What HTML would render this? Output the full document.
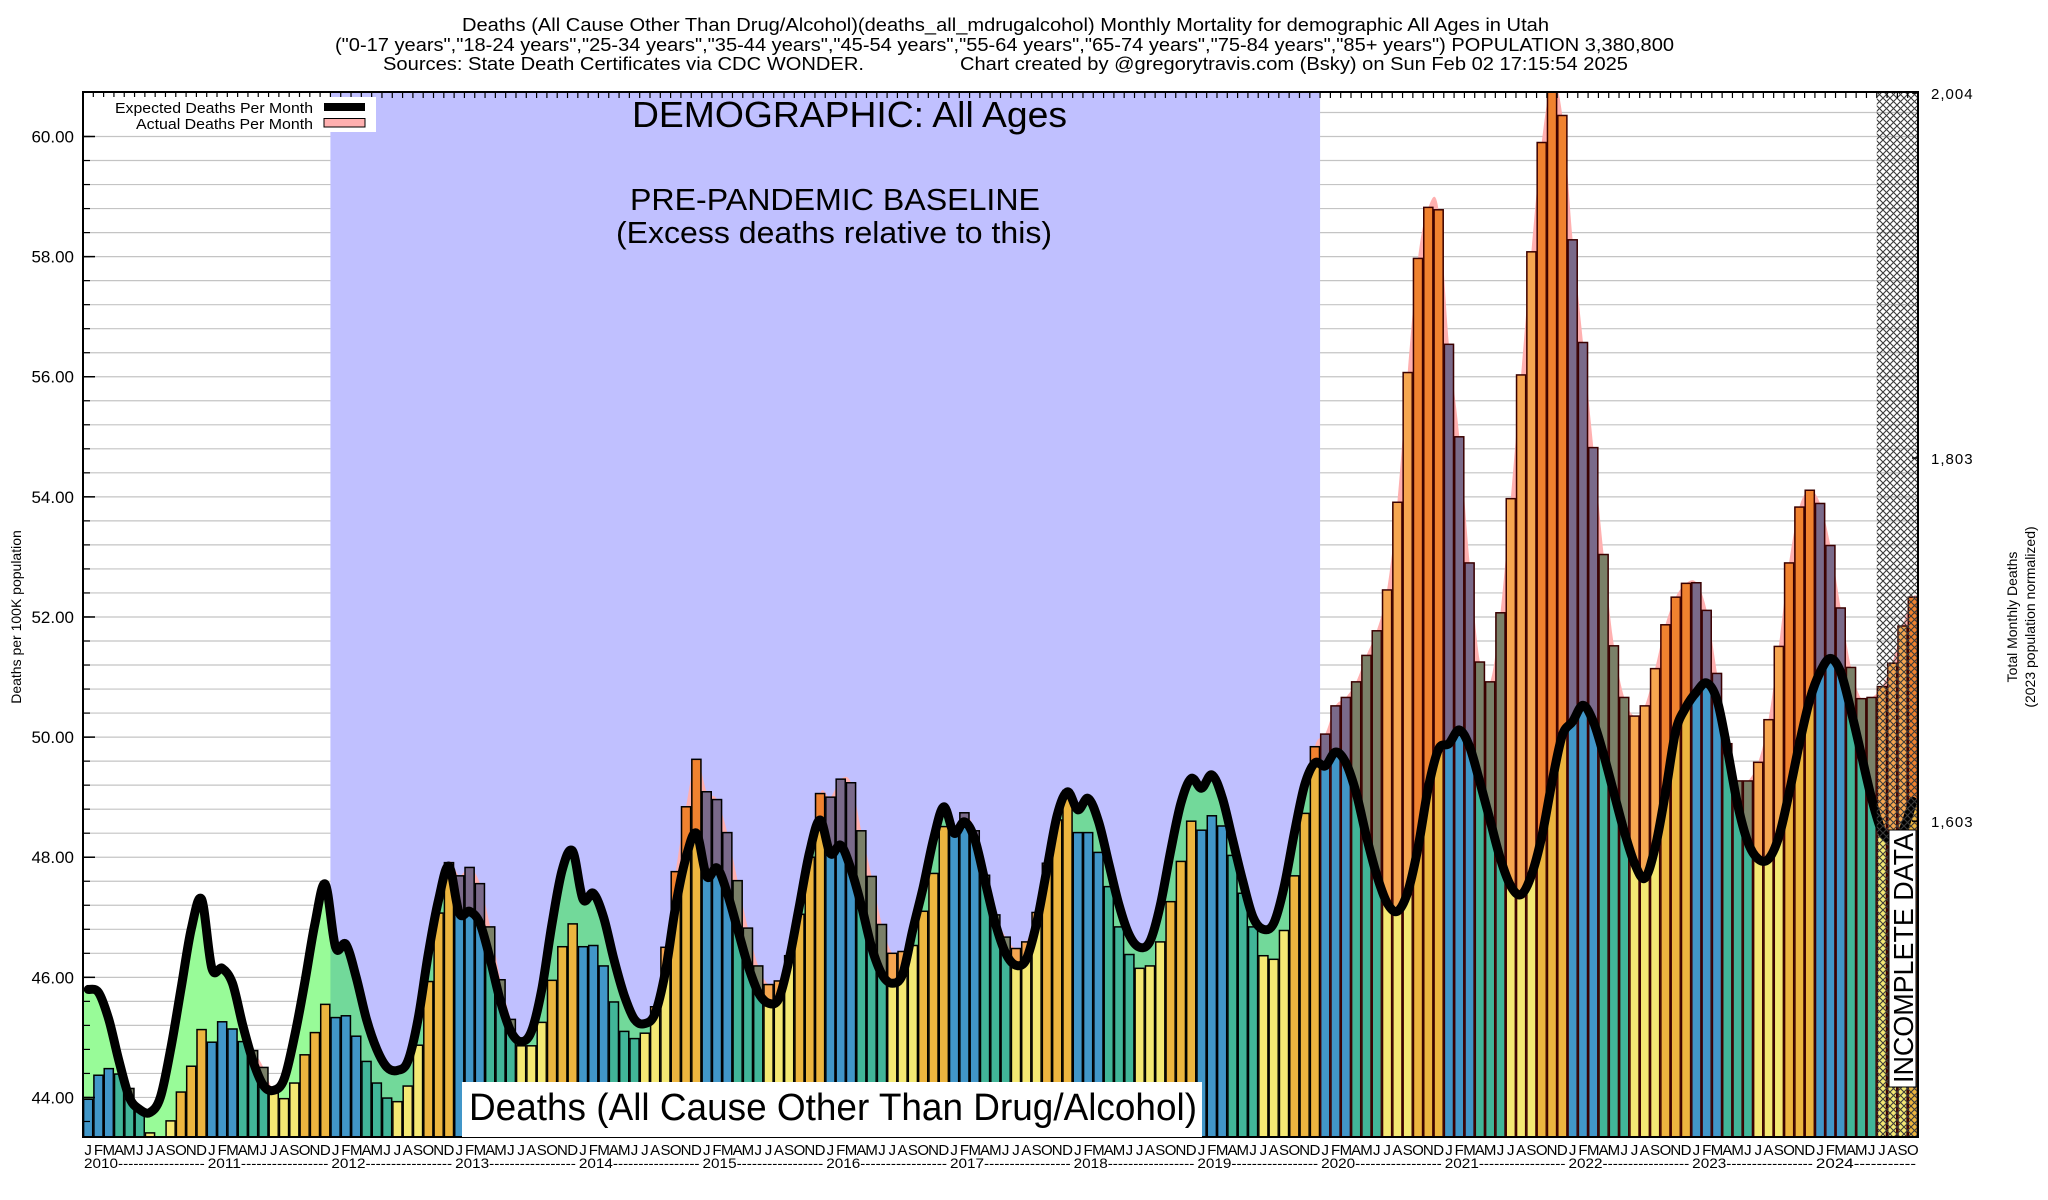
<!DOCTYPE html>
<html><head><meta charset="utf-8"><title>Utah Monthly Mortality</title>
<style>body{margin:0;background:#fff}svg{display:block;font-family:"Liberation Sans",Arial,sans-serif}</style>
</head><body>
<svg id="chart" xmlns="http://www.w3.org/2000/svg" width="2048" height="1200" viewBox="0 0 2048 1200">
<defs>
<clipPath id="plotClip"><rect x="83" y="92" width="1835" height="1045"/></clipPath>
<pattern id="hatch" width="7" height="7" patternUnits="userSpaceOnUse"><path d="M0,0 L7,7 M7,0 L0,7" stroke="#3a3a3a" stroke-width="1.1"/></pattern>
</defs>
<g font-size="18" fill="#000">
<text x="462" y="31" textLength="1087" lengthAdjust="spacingAndGlyphs">Deaths (All Cause Other Than Drug/Alcohol)(deaths_all_mdrugalcohol) Monthly Mortality for demographic All Ages in Utah</text>
<text x="335" y="51" textLength="1339" lengthAdjust="spacingAndGlyphs">("0-17 years","18-24 years","25-34 years","35-44 years","45-54 years","55-64 years","65-74 years","75-84 years","85+ years") POPULATION 3,380,800</text>
<text x="383" y="70" textLength="481" lengthAdjust="spacingAndGlyphs">Sources: State Death Certificates via CDC WONDER.</text>
<text x="960" y="70" textLength="668" lengthAdjust="spacingAndGlyphs">Chart created by @gregorytravis.com (Bsky) on Sun Feb 02 17:15:54 2025</text>
</g>
<g id="plot"></g>
<g id="overlay"></g>
</svg>
<script>
const monthLetters = ['J','F','M','A','M','J','J','A','S','O','N','D'];
const years = [2010,2011,2012,2013,2014,2015,2016,2017,2018,2019,2020,2021,2022,2023,2024];
const actualDeaths = [
43.97,44.37,44.48,44.39,44.15,43.8,43.41,43.33,43.61,44.09,44.52,45.13,
44.92,45.26,45.14,44.93,44.78,44.5,44.09,43.98,44.24,44.71,45.08,45.55,
45.33,45.36,45.02,44.6,44.24,43.99,43.93,44.19,44.87,45.93,47.07,47.91,
47.69,47.83,47.56,46.84,45.96,45.30,44.86,44.86,45.25,45.95,46.51,46.89,
46.51,46.53,46.19,45.59,45.10,44.98,45.07,45.51,46.50,47.76,48.84,49.63,
49.09,48.96,48.41,47.61,46.82,46.19,45.88,45.94,46.36,47.05,48.0,49.06,
49.0,49.30,49.24,48.44,47.68,46.88,46.40,46.43,46.53,47.10,47.73,48.51,
48.40,48.74,48.44,47.70,47.04,46.67,46.48,46.59,47.08,47.90,48.62,49.11,
48.41,48.41,48.08,47.51,46.84,46.38,46.15,46.19,46.59,47.26,47.93,48.60,
48.45,48.69,48.52,48.03,47.40,46.84,46.36,46.30,46.78,47.69,48.73,49.84,
50.05,50.52,50.66,50.92,51.36,51.77,52.45,53.91,56.07,57.97,58.82,58.78,
56.54,55.0,52.90,51.25,50.92,52.07,53.97,56.03,58.08,59.90,60.9,60.35,
58.28,56.57,54.82,53.04,51.52,50.66,50.35,50.52,51.14,51.87,52.33,52.56,
52.57,52.11,51.06,49.89,49.27,49.27,49.58,50.29,51.51,52.90,53.83,54.11,
53.89,53.19,52.15,51.16,50.64,50.66,50.84,51.23,51.85,52.33];
const expectedDeaths = [
45.8,45.75,45.3,44.6,44.0,43.8,43.75,44.0,44.8,45.8,46.8,47.3,
46.15,46.15,45.9,45.2,44.6,44.2,44.12,44.3,45.0,45.9,46.9,47.55,
46.5,46.55,46.0,45.3,44.8,44.5,44.45,44.6,45.3,46.4,47.3,47.85,
47.07,47.1,46.9,46.3,45.6,45.1,44.93,45.1,45.8,46.9,47.8,48.1,
47.3,47.4,47.0,46.3,45.7,45.3,45.23,45.4,46.1,47.2,48.0,48.4,
47.68,47.82,47.4,46.8,46.2,45.75,45.57,45.65,46.3,47.2,48.1,48.62,
48.06,48.2,47.8,47.2,46.5,46.05,45.9,46.05,46.8,47.5,48.3,48.84,
48.4,48.59,48.3,47.6,46.9,46.4,46.2,46.3,46.9,47.8,48.7,49.09,
48.79,48.98,48.6,47.9,47.2,46.7,46.5,46.6,47.2,48.1,48.9,49.31,
49.15,49.37,49.0,48.3,47.6,47.0,46.8,46.9,47.5,48.4,49.2,49.57,
49.52,49.75,49.57,49.07,48.34,47.7,47.24,47.1,47.42,48.16,49.16,49.8,
49.89,50.12,49.84,49.25,48.61,47.97,47.52,47.38,47.7,48.34,49.25,50.03,
50.26,50.53,50.26,49.71,49.07,48.43,47.9,47.65,48.16,49.07,50.1,50.5,
50.75,50.9,50.62,49.8,48.88,48.25,47.97,47.97,48.34,49.07,49.89,50.62,
51.08,51.31,51.08,50.44,49.71,48.98,48.43,48.29,48.43,48.93];
const yTickLabels = [44,46,48,50,52,54,56,58,60];
const rightTickLabels = [1603,1803,2004];
const baselineStartIndex = 24;
const baselineEndIndex = 120;
const incompleteStartIndex = 174;

const NS = 'http://www.w3.org/2000/svg';
const L = 83, R = 1918, T = 92, B = 1137;
const N = actualDeaths.length;
const bw = (R - L) / N;
function xLeft(i){ return L + bw * i; }
function xc(i){ return L + bw * (i + 0.5); }
function yv(v){ return 136.5 + (60 - v) * 60.06; }
function yr(d){ return 93 + (2004 - d) * (458 - 93) / (2004 - 1803); }
function el(tag, attrs, parent){ const e = document.createElementNS(NS, tag); for (const k in attrs) e.setAttribute(k, attrs[k]); parent.appendChild(e); return e; }
function smooth(pts){
  let d = 'M' + pts[0][0].toFixed(1) + ',' + pts[0][1].toFixed(1);
  for (let i = 0; i < pts.length - 1; i++){
    const p0 = pts[Math.max(0,i-1)], p1 = pts[i], p2 = pts[i+1], p3 = pts[Math.min(pts.length-1,i+2)];
    const c1x = p1[0] + (p2[0]-p0[0])/6, c1y = p1[1] + (p2[1]-p0[1])/6;
    const c2x = p2[0] - (p3[0]-p1[0])/6, c2y = p2[1] - (p3[1]-p1[1])/6;
    d += ' C' + c1x.toFixed(1)+','+c1y.toFixed(1)+' '+c2x.toFixed(1)+','+c2y.toFixed(1)+' '+p2[0].toFixed(1)+','+p2[1].toFixed(1);
  }
  return d;
}
const plot = document.getElementById('plot');
const overlay = document.getElementById('overlay');
const clipped = el('g', {'clip-path':'url(#plotClip)'}, plot);



for (let k = 0; k <= 42; k++){
  const v = 43.6 + k * 0.4;
  const g = el('line', {x1:L, x2:R, y1:yv(v), y2:yv(v), stroke:'#c4c4c4', 'stroke-width':1.2}, clipped);
  
  
  const t = el('line', {x1:L, x2:L+7, y1:yv(v), y2:yv(v), stroke:'#000', 'stroke-width':1.2}, overlay);
  
  
}
const base = el('rect', {x:xLeft(baselineStartIndex), y:T, width:xLeft(baselineEndIndex)-xLeft(baselineStartIndex), height:B-T, fill:'#c0c0ff'}, clipped);



const aPts = actualDeaths.map((v,i)=>[xc(i), yv(v)]);
aPts.unshift([L, yv(actualDeaths[0])]); aPts.push([R, yv(actualDeaths[N-1])]);
const pink = el('path', {d: smooth(aPts) + ` L${R},${B} L${L},${B} Z`, fill:'#ffb0b0'}, clipped);



const ePts = expectedDeaths.map((v,i)=>[xc(i), yv(v)]);
ePts.unshift([L, yv(expectedDeaths[0])]); ePts.push([R, yv(expectedDeaths[N-1])]);
const eCurve = smooth(ePts);
const green = el('path', {d: eCurve + ` L${R},${B} L${L},${B} Z`, fill:'#98fb98'}, clipped);


const gclip = el('clipPath', {id:'baseClip'}, clipped);
el('rect', {x:xLeft(baselineStartIndex), y:T, width:xLeft(baselineEndIndex)-xLeft(baselineStartIndex), height:B-T}, gclip);
const teal = el('path', {d: eCurve + ` L${R},${B} L${L},${B} Z`, fill:'#72d99a', 'clip-path':'url(#baseClip)'}, clipped);



const baseCol = ['#4196c8','#4196c8','#4196c8','#41b598','#41b598','#41b598','#f4e873','#f4e873','#f4e873','#ecb53f','#ecb53f','#ecb53f'];
const excessCol = ['#7a6a8a','#7a6a8a','#7a6a8a','#7a8068','#7a8068','#7a8068','#f6a650','#f6a650','#f6a650','#f0822f','#f0822f','#f0822f'];
for (let i = 0; i < N; i++){
  const a = actualDeaths[i], e = expectedDeaths[i], m = i % 12;
  const x = xLeft(i);
  const g = el('g', {}, clipped);
  
  
  const lo = Math.min(a, e);
  el('rect', {x:x, y:yv(lo), width:bw, height:B-yv(lo), fill:baseCol[m]}, g);
  if (a > e) el('rect', {x:x, y:yv(a), width:bw, height:yv(e)-yv(a), fill:excessCol[m]}, g);
  el('rect', {x:x+0.6, y:yv(a), width:bw-1.2, height:B-yv(a)+2, fill:'none', stroke: a>e && i>=120 ? '#3a0000' : '#000', 'stroke-width':1.5}, g);
}
const line = el('path', {d: smooth(expectedDeaths.map((v,i)=>[xc(i), yv(v)])), fill:'none', stroke:'#000', 'stroke-width':9, 'stroke-linejoin':'round', 'stroke-linecap':'round'}, clipped);



const hatch = el('rect', {x:xLeft(incompleteStartIndex), y:T, width:R-xLeft(incompleteStartIndex), height:B-T, fill:'url(#hatch)'}, clipped);



const frame = el('rect', {x:L, y:T, width:R-L, height:B-T, fill:'none', stroke:'#000', 'stroke-width':2}, overlay);


for (let i = 0; i <= N; i++){
  const t = el('line', {x1:xLeft(i), x2:xLeft(i), y1:T, y2:T+6, stroke:'#000', 'stroke-width':1.2}, overlay);
  
  
}
yTickLabels.forEach(v => {
  const t = el('text', {x:74, y:yv(v)+6, 'text-anchor':'end', 'font-size':17}, overlay);
  t.textContent = v.toFixed(2);
  
  
  const tk = el('line', {x1:L, x2:L+12, y1:yv(v), y2:yv(v), stroke:'#000', 'stroke-width':1.5}, overlay);
  
  
});
rightTickLabels.forEach(d => {
  const t = el('text', {x:1931, y:yr(d)+6, 'font-size':15, 'letter-spacing':'1'}, overlay);
  t.textContent = d.toLocaleString('en-US');
  
  
  const tk = el('line', {x1:R-6, x2:R, y1:yr(d), y2:yr(d), stroke:'#000', 'stroke-width':1.5}, overlay);
  
  
});
for (let i = 0; i < N; i++){
  const t = el('text', {x:xc(i), y:1155, 'text-anchor':'middle', 'font-size':15}, overlay);
  t.textContent = monthLetters[i % 12];
  
  
}
years.forEach((yr_, k) => {
  const n = Math.min(12, N - 12*k);
  const t = el('text', {x:xLeft(12*k)+1, y:1168, 'font-size':14, textLength:(n*bw-3).toFixed(1), lengthAdjust:'spacingAndGlyphs'}, overlay);
  t.textContent = yr_ + (n === 12 ? '-----------------' : '-----------');
  
  
});
</script>
<script>
const ov = document.getElementById('overlay');
ov.insertAdjacentHTML('beforeend', `
<g>
<rect x="84" y="97" width="292" height="35" fill="#fff"/>
<text x="313" y="113" text-anchor="end" font-size="15" textLength="198" lengthAdjust="spacingAndGlyphs">Expected Deaths Per Month</text>
<rect x="324" y="103" width="41" height="8" fill="#000"/>
<text x="313" y="129" text-anchor="end" font-size="15" textLength="177" lengthAdjust="spacingAndGlyphs">Actual Deaths Per Month</text>
<rect x="324" y="118.5" width="41" height="8.5" fill="#ffb0b0" stroke="#000" stroke-width="1"/>
</g>
<text x="632" y="127" font-size="36" textLength="435" lengthAdjust="spacingAndGlyphs">DEMOGRAPHIC: All Ages</text>
<text x="630" y="210" font-size="31" textLength="410" lengthAdjust="spacingAndGlyphs">PRE-PANDEMIC BASELINE</text>
<text x="616" y="243" font-size="31" textLength="436" lengthAdjust="spacingAndGlyphs">(Excess deaths relative to this)</text>
<rect x="462" y="1082" width="740" height="55" fill="#fff"/>
<text x="469" y="1120" font-size="38" textLength="728" lengthAdjust="spacingAndGlyphs">Deaths (All Cause Other Than Drug/Alcohol)</text>
<rect x="1889" y="830" width="27" height="257" fill="#fff" stroke="#000" stroke-width="1"/>
<text transform="translate(1913,1083) rotate(-90)" font-size="28" textLength="250" lengthAdjust="spacingAndGlyphs">INCOMPLETE DATA</text>
<text transform="translate(21,617) rotate(-90)" text-anchor="middle" font-size="14">Deaths per 100K population</text>
<text transform="translate(2017,617) rotate(-90)" text-anchor="middle" font-size="14">Total Monthly Deaths</text>
<text transform="translate(2035,617) rotate(-90)" text-anchor="middle" font-size="14">(2023 population normalized)</text>
`);
</script>
</body></html>
